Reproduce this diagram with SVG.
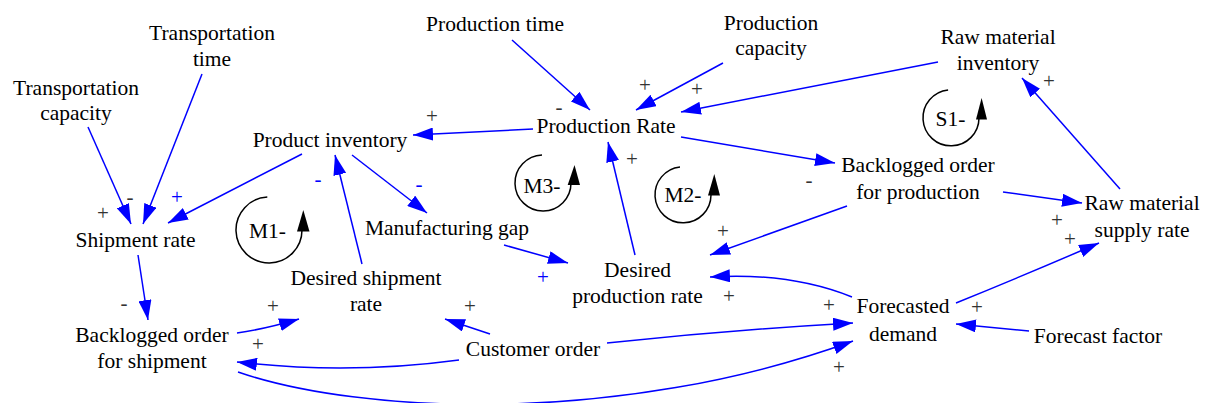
<svg xmlns="http://www.w3.org/2000/svg" width="1207" height="403" viewBox="0 0 1207 403">
<defs>
<marker id="ah" markerUnits="userSpaceOnUse" markerWidth="20" markerHeight="13" refX="20" refY="6.5" orient="auto" viewBox="0 0 20 13"><path d="M0,0 L20,6.5 L0,13 z" fill="#0000ff"/></marker>
<style>
.n text{font-family:"Liberation Serif","Times New Roman",serif;font-size:21.5px;fill:#000;text-anchor:middle}
.c path{fill:none;stroke:#0000ff;stroke-width:1.5;marker-end:url(#ah)}
.s text{font-family:"Liberation Serif","Times New Roman",serif;font-size:21px;text-anchor:middle;fill:#333}
.s text.b{fill:#0000ff}
.loop path.a{fill:none;stroke:#000;stroke-width:1.5}
.loop path.h{fill:#000;stroke:none}
</style>
</defs>
<rect width="1207" height="403" fill="#fff"/>

<g id="connectors" class="c">
<path d="M88,127 L131,224"/>
<path d="M202,74 L143,224"/>
<path d="M302,154 L168,223"/>
<path d="M138,255 L148,320"/>
<path d="M237,333 Q265,329 299,319"/>
<path d="M459,360 Q348,375 237,362"/>
<path d="M490,334 L445,319"/>
<path d="M607,343 Q730,330 853,323"/>
<path d="M238,372 C360,414 620,426 853,341"/>
<path d="M1029,331 L956,324"/>
<path d="M956,303 Q1025,275 1099,243"/>
<path d="M1003,192 L1082,203"/>
<path d="M1120,189 L1022,78"/>
<path d="M938,62 L681,112"/>
<path d="M723,63 L636,110"/>
<path d="M512,40 L590,110"/>
<path d="M533,129 L413,135"/>
<path d="M681,137 L835,163"/>
<path d="M352,155 L427,213"/>
<path d="M362,264 L335,155"/>
<path d="M504,245 L568,263"/>
<path d="M635,255 L608,142"/>
<path d="M847,206 L710,255"/>
<path d="M852,297 Q790,272 710,277"/>
</g>

<g id="signs" class="s">
<text x="103" y="219.5">+</text>
<text x="273" y="313">+</text>
<text x="258" y="351">+</text>
<text x="470" y="313">+</text>
<text x="829" y="312">+</text>
<text x="839" y="374">+</text>
<text x="977" y="314">+</text>
<text x="1057" y="227">+</text>
<text x="1070" y="245.5">+</text>
<text x="1049" y="88">+</text>
<text x="697" y="96">+</text>
<text x="645" y="91.5">+</text>
<text x="432" y="123">+</text>
<text x="632" y="166">+</text>
<text x="723" y="238">+</text>
<text x="729" y="303">+</text>
<text x="130" y="203.5">-</text>
<text x="124" y="310">-</text>
<text x="559" y="114">-</text>
<text x="809" y="186.5">-</text>
<text class="b" x="177" y="204">+</text>
<text class="b" x="318" y="185.5">-</text>
<text class="b" x="419" y="191">-</text>
<text class="b" x="543" y="284">+</text>
</g>

<g id="loops" class="loop">
<g id="loop-M1"><path class="a" d="M267.3,197 A33,33 0 1 0 302,230"/><path class="h" d="M297,231.5 L309.5,231.5 L303.3,210 z"/><g class="n"><text x="267.5" y="238">M1-</text></g></g>
<g id="loop-M3"><path class="a" d="M542,155 A28,28 0 1 0 571,183"/><path class="h" d="M567.7,185 L580,185 L574.5,165 z"/><g class="n"><text x="542" y="193">M3-</text></g></g>
<g id="loop-M2"><path class="a" d="M680,167 A28,28 0 1 0 711,195"/><path class="h" d="M708,195.5 L720,195.5 L714.3,174 z"/><g class="n"><text x="683" y="202">M2-</text></g></g>
<g id="loop-S1"><path class="a" d="M948.1,90 A28,28 0 1 0 979,118"/><path class="h" d="M976,119.5 L987,119.5 L981.6,98 z"/><g class="n"><text x="950.5" y="126">S1-</text></g></g>
</g>

<g id="transportation-time" class="n"><text x="212" y="40">Transportation</text><text x="212" y="66">time</text></g>
<g id="transportation-capacity" class="n"><text x="76" y="95">Transportation</text><text x="76" y="120">capacity</text></g>
<g id="production-time" class="n"><text x="495" y="31">Production time</text></g>
<g id="production-capacity" class="n"><text x="771" y="30">Production</text><text x="771" y="55">capacity</text></g>
<g id="raw-material-inventory" class="n"><text x="998" y="44">Raw material</text><text x="998" y="70">inventory</text></g>
<g id="production-rate" class="n"><text x="606" y="133">Production Rate</text></g>
<g id="product-inventory" class="n"><text x="330" y="147">Product inventory</text></g>
<g id="shipment-rate" class="n"><text x="135.5" y="247">Shipment rate</text></g>
<g id="backlogged-order-for-shipment" class="n"><text x="152" y="342">Backlogged order</text><text x="152" y="368">for shipment</text></g>
<g id="desired-shipment-rate" class="n"><text x="366" y="285">Desired shipment</text><text x="366" y="311">rate</text></g>
<g id="manufacturing-gap" class="n"><text x="447" y="235">Manufacturing gap</text></g>
<g id="desired-production-rate" class="n"><text x="637.5" y="277">Desired</text><text x="637.5" y="303">production rate</text></g>
<g id="customer-order" class="n"><text x="533" y="356">Customer order</text></g>
<g id="forecasted-demand" class="n"><text x="903" y="313">Forecasted</text><text x="903" y="341">demand</text></g>
<g id="forecast-factor" class="n"><text x="1098" y="343">Forecast factor</text></g>
<g id="raw-material-supply-rate" class="n"><text x="1142" y="210">Raw material</text><text x="1142" y="237">supply rate</text></g>
<g id="backlogged-order-for-production" class="n"><text x="918" y="172">Backlogged order</text><text x="918" y="199">for production</text></g>
</svg>
